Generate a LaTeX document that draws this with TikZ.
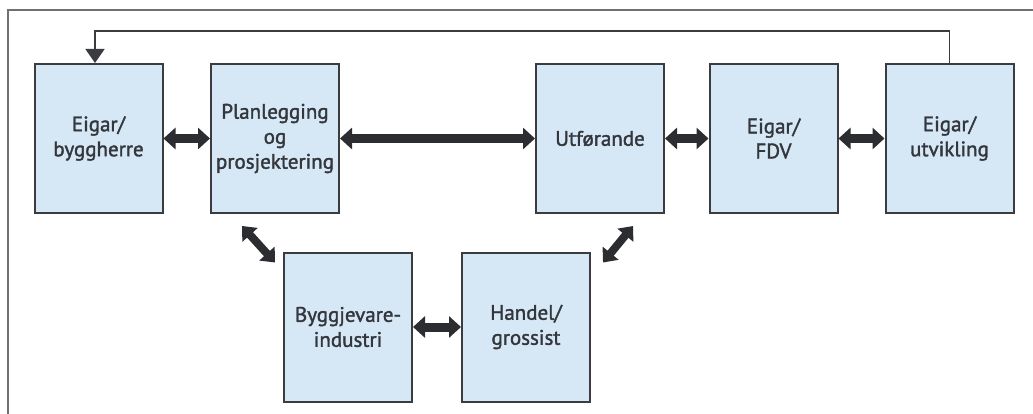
\documentclass[tikz,border=0pt]{standalone}
\usepackage{fontspec}
\setmainfont{PT Sans}[FakeBold=1.6]
\usetikzlibrary{arrows.meta,calc}
\definecolor{boxfill}{HTML}{D6E7F6}
\definecolor{boxline}{HTML}{3A3C40}
\definecolor{arrowcol}{HTML}{2B2D31}
\definecolor{framecol}{HTML}{707070}
\definecolor{txtcol}{HTML}{33363B}
\tikzset{
  stage/.style={draw=boxline, line width=2pt, fill=boxfill, minimum width=128pt, minimum height=149pt,
    inner sep=0pt, align=center, text=txtcol, font=\fontsize{21}{25}\selectfont},
  dbl/.style={draw=arrowcol, line width=9pt,
    {Triangle[width=21pt,length=12pt]}-{Triangle[width=21pt,length=12pt]}},
  dblthin/.style={draw=arrowcol, line width=8pt,
    {Triangle[width=20pt,length=12pt]}-{Triangle[width=20pt,length=12pt]}},
  feedback/.style={draw=boxline, line width=1.6pt, -{Triangle[width=19pt,length=14pt]}},
  frame/.style={draw=framecol, line width=1.6pt}
}
\begin{document}
\begin{tikzpicture}[x=1pt,y=-1pt]
\useasboundingbox (0,0) rectangle (1033,414);
\coordinate (fr1) at (8,414);
\coordinate (fr2) at (8,10);
\coordinate (fr3) at (1033,10);
\draw[frame] (fr1) -- (fr2) -- (fr3);

\node[stage] (eigar) at (98.5,138.5) {Eigar/\\byggherre};
\node[stage] (plan) at (275,138.5) {Planlegging\\og\\prosjektering};
\node[stage] (utf) at (600,138.5) {Utførande};
\node[stage] (fdv) at (773.5,138.5) {Eigar/\\FDV};
\node[stage] (utv) at (949.5,138.5) {Eigar/\\utvikling};
\node[stage] (bygg) at (348,327) {Byggjevare-\\industri};
\node[stage] (handel) at (526,327) {Handel/\\grossist};

\draw[dbl] (eigar.east) -- (plan.west);
\draw[dbl] (plan.east) -- (utf.west);
\draw[dbl] (utf.east) -- (fdv.west);
\draw[dbl] (fdv.east) -- (utv.west);
\draw[dbl] (bygg.east) -- (handel.west);
\draw[dblthin] ($(plan.south west)+(32,12)$) -- ($(bygg.north west)+(-8,11)$);
\draw[dblthin] ($(handel.north east)+(12,11)$) -- ($(utf.south west)+(98,12)$);

\coordinate (fbR) at (utv.north |- 0,31);
\coordinate (fbL) at (95,31);
\draw[feedback] (utv.north) -- (fbR) -- (fbL) -- (fbL |- eigar.north);
\end{tikzpicture}
\end{document}
